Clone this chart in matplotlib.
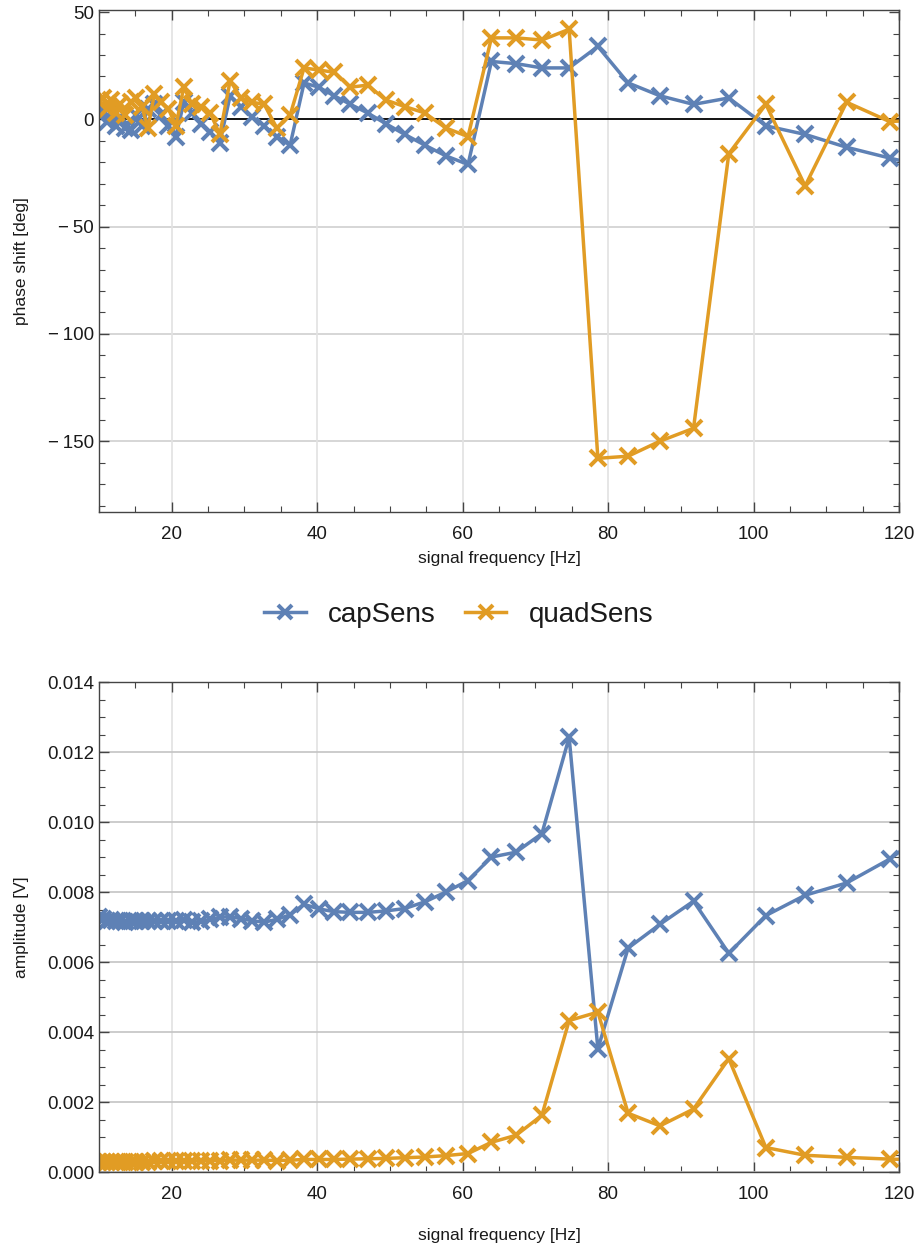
import matplotlib
matplotlib.use("Agg")
import matplotlib.pyplot as plt
from matplotlib.ticker import MultipleLocator, FormatStrFormatter, FuncFormatter

plt.rcParams['font.family'] = ['Liberation Sans', 'DejaVu Sans']

# signal frequencies [Hz] (log-spaced sweep)
freq = [10.0, 10.53, 11.08, 11.67, 12.29, 12.94, 13.62, 14.34, 15.10, 15.90,
        16.74, 17.63, 18.56, 19.54, 20.58, 21.66, 22.81, 24.02, 25.29, 26.62,
        28.03, 29.52, 31.08, 32.72, 34.45, 36.28, 38.20, 40.22, 42.34, 44.58,
        46.94, 49.43, 52.04, 54.80, 57.69, 60.75, 63.96, 67.34, 70.90, 74.65,
        78.60, 82.76, 87.14, 91.75, 96.60, 101.7, 107.1, 112.8, 118.7, 125.0]

# phase shift [deg]
phase_cap = [2, 4, -1, 3, -3, 1, -4, -5, 2, -3,
             5, 7, 2, -3, -8, 8, 3, -2, -6, -11,
             11, 6, 1, -3, -8, -12, 17, 15, 11, 7,
             3, -2, -7, -12, -17, -21, 27, 26, 24, 24,
             34, 17, 11, 7, 10, -3, -7, -13, -18, -23]
phase_quad = [8, 10, 5, 9, 3, 7, 2, 8, 10, 6,
              -4, 12, 8, 5, -3, 15, 7, 6, 3, -7,
              18, 10, 8, 7, -4, 2, 24, 23, 22, 15,
              16, 9, 6, 3, -4, -8, 38, 38, 37, 42,
              -158, -157, -150, -144, -16, 7, -31, 8, -1, 0]

# amplitude [V]
amp_cap = [0.00728, 0.00722, 0.00718, 0.00720, 0.00716, 0.00718, 0.00715, 0.00717, 0.00716, 0.00718,
           0.00716, 0.00718, 0.00717, 0.00716, 0.00718, 0.00720, 0.00714, 0.00716, 0.00722, 0.00728,
           0.00730, 0.00724, 0.00718, 0.00714, 0.00722, 0.00735, 0.00765, 0.00752, 0.00744, 0.00742,
           0.00742, 0.00746, 0.00753, 0.00772, 0.00800, 0.00833, 0.00900, 0.00914, 0.00967, 0.01242,
           0.00352, 0.00640, 0.00708, 0.00774, 0.00625, 0.00733, 0.00791, 0.00826, 0.00894, 0.00990]
amp_quad = [0.00030, 0.00029, 0.00030, 0.00029, 0.00030, 0.00029, 0.00030, 0.00029, 0.00030, 0.00030,
            0.00030, 0.00031, 0.00031, 0.00031, 0.00032, 0.00032, 0.00032, 0.00032, 0.00033, 0.00033,
            0.00034, 0.00034, 0.00034, 0.00034, 0.00033, 0.00034, 0.00036, 0.00036, 0.00036, 0.00037,
            0.00038, 0.00039, 0.00041, 0.00043, 0.00047, 0.00053, 0.00085, 0.00105, 0.00162, 0.00433,
            0.00457, 0.00168, 0.00132, 0.00180, 0.00324, 0.00070, 0.00048, 0.00042, 0.00037, 0.00034]

blue = '#5e81b5'
orange = '#e19c24'
frame_col = '#444444'
text_col = '#1a1a1a'

fig = plt.figure(figsize=(9.19, 12.49), dpi=100)
ax1 = fig.add_axes([0.1077, 0.5901, 0.8705, 0.4019])
ax2 = fig.add_axes([0.1077, 0.0616, 0.8705, 0.3923])

style = dict(marker='x', markersize=11.5, markeredgewidth=2.9, linewidth=2.5)


def frame(ax, xlabelpad):
    for s in ax.spines.values():
        s.set_color(frame_col)
        s.set_linewidth(1.0)
    ax.tick_params(which='both', direction='in', top=True, right=True,
                   color=frame_col, labelsize=13.5, labelcolor=text_col)
    ax.tick_params(which='major', length=7, width=1)
    ax.tick_params(which='minor', length=4, width=0.8)
    ax.tick_params(axis='x', which='major', pad=10)
    ax.xaxis.set_major_locator(MultipleLocator(20))
    ax.xaxis.set_minor_locator(MultipleLocator(5))
    ax.set_xlim(10, 120)
    ax.set_xlabel('signal frequency [Hz]', fontsize=12.5, color=text_col, labelpad=xlabelpad)
    ax.yaxis.set_label_coords(-0.088, 0.5)
    ax.set_axisbelow(True)


def deg_fmt(v, pos):
    if v < 0:
        return '\u2212\u2009%d' % abs(v)
    return '%d' % v


# phase plot
ax1.grid(True, axis='x', color='#e2e2e2', linewidth=1.2)
for yv in [-150, -100, -50]:
    ax1.axhline(yv, color='#cfcfcf', linewidth=1.2, zorder=0)
ax1.axhline(0, color='black', linewidth=1.3, zorder=1)
l1, = ax1.plot(freq, phase_cap, color=blue, label='capSens', **style)
l2, = ax1.plot(freq, phase_quad, color=orange, label='quadSens', **style)
ax1.set_ylabel('phase shift [deg]', fontsize=12.5, color=text_col)
frame(ax1, 6)
ax1.set_ylim(-183, 51)
ax1.yaxis.set_major_locator(MultipleLocator(50))
ax1.yaxis.set_minor_locator(MultipleLocator(10))
ax1.yaxis.set_major_formatter(FuncFormatter(deg_fmt))

# amplitude plot
ax2.grid(True, axis='x', color='#e2e2e2', linewidth=1.2)
ax2.grid(True, axis='y', color='#c4c4c4', linewidth=1.2)
ax2.plot(freq, amp_cap, color=blue, **style)
ax2.plot(freq, amp_quad, color=orange, **style)
ax2.set_ylabel('amplitude [V]', fontsize=12.5, color=text_col)
frame(ax2, 18)
ax2.set_ylim(0, 0.014)
ax2.yaxis.set_major_locator(MultipleLocator(0.002))
ax2.yaxis.set_minor_locator(MultipleLocator(0.0005))
ax2.yaxis.set_major_formatter(FormatStrFormatter('%.3f'))

fig.legend(handles=[l1, l2], loc='center', bbox_to_anchor=(0.499, 0.508), ncol=2,
           frameon=False, fontsize=20, handlelength=1.5, columnspacing=1.05,
           handletextpad=0.8, markerscale=0.85, labelcolor=text_col)

fig.savefig('out.png', dpi=100)
